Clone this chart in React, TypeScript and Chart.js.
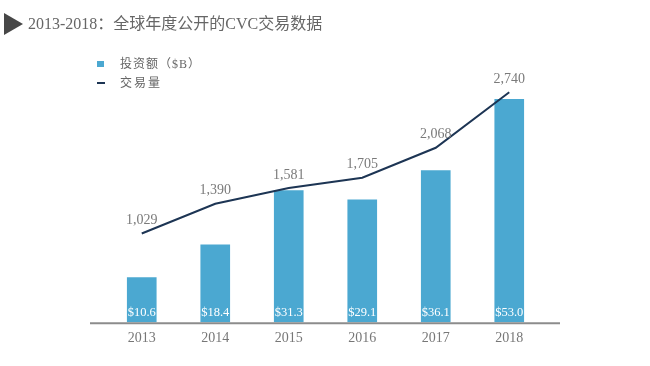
import React, { useEffect, useRef } from "react";
import { Chart, registerables } from "chart.js";

Chart.register(...registerables);

const years = ["2013", "2014", "2015", "2016", "2017", "2018"];
const investment = [10.6, 18.4, 31.3, 29.1, 36.1, 53.0];
const dealCount = [1029, 1390, 1581, 1705, 2068, 2740];
const titleText = "2013-2018：全球年度公开的CVC交易数据";
const legendInvest = "投资额（$B）";
const legendDeals = "交易量";

const BAR_COLOR = "#4ba8d1";
const LINE_COLOR = "#1d3554";
const SERIF = "'Liberation Serif', 'Noto Sans CJK SC', serif";

const labelPlugin = {
  id: "customLabels",
  afterDatasetsDraw(chart: any) {
    const { ctx, chartArea } = chart;
    ctx.save();
    // axis baseline
    ctx.strokeStyle = "#8c8c8c";
    ctx.lineWidth = 2;
    ctx.beginPath();
    ctx.moveTo(chartArea.left - 15, chartArea.bottom + 1);
    ctx.lineTo(chartArea.right + 14, chartArea.bottom + 1);
    ctx.stroke();

    // bar labels
    const barMeta = chart.getDatasetMeta(0);
    ctx.fillStyle = "#ffffff";
    ctx.font = `12.5px ${SERIF}`;
    ctx.textAlign = "center";
    ctx.textBaseline = "middle";
    barMeta.data.forEach((el: any, i: number) => {
      ctx.fillText("$" + investment[i].toFixed(1), el.x, chartArea.bottom - 9.5);
    });

    // line labels
    const lineMeta = chart.getDatasetMeta(1);
    ctx.fillStyle = "#7a7a7a";
    ctx.font = `14px ${SERIF}`;
    ctx.textBaseline = "bottom";
    lineMeta.data.forEach((el: any, i: number) => {
      ctx.fillText(dealCount[i].toLocaleString("en-US"), el.x, el.y - 6);
    });
    ctx.restore();
  },
};

export default function App() {
  const canvasRef = useRef<HTMLCanvasElement | null>(null);

  useEffect(() => {
    if (!canvasRef.current) return;
    const chart = new Chart(canvasRef.current, {
      type: "bar",
      data: {
        labels: years,
        datasets: [
          {
            type: "bar",
            label: legendInvest,
            data: investment,
            backgroundColor: BAR_COLOR,
            barThickness: 29,
            yAxisID: "y",
            order: 1,
          },
          {
            type: "line",
            label: legendDeals,
            data: dealCount,
            borderColor: LINE_COLOR,
            borderWidth: 2,
            pointRadius: 0,
            tension: 0,
            yAxisID: "y1",
            order: 0,
          },
        ] as any,
      },
      options: {
        responsive: false,
        animation: false,
        layout: { padding: { left: 105, right: 104, top: 70, bottom: 11 } },
        plugins: {
          legend: { display: false },
          tooltip: { enabled: false },
          title: { display: false },
        },
        scales: {
          x: {
            grid: { display: false, drawTicks: false },
            border: { display: false },
            ticks: {
              color: "#777777",
              font: { family: SERIF, size: 14 },
              padding: 8,
            },
          },
          y: { display: false, min: 0, max: 60 },
          y1: { display: false, min: -45, max: 3010, position: "right" },
        },
      },
      plugins: [labelPlugin],
    });
    return () => chart.destroy();
  }, []);

  return (
    <div style={{ position: "fixed", left: 0, top: 0, width: 650, height: 366, background: "#fff" }}>
      <canvas ref={canvasRef} width={650} height={366} style={{ position: "absolute", left: 0, top: 0 }} />
      <svg width={24} height={40} style={{ position: "absolute", left: 0, top: 5 }}>
        <polygon points="4,8 4,30 23,19" fill="#474747" />
      </svg>
      <div
        style={{
          position: "absolute",
          left: 28,
          top: 14,
          fontFamily: SERIF,
          fontSize: 16,
          lineHeight: "20px",
          color: "#666666",
          whiteSpace: "nowrap",
        }}
      >
        {titleText}
      </div>
      <div style={{ position: "absolute", left: 97, top: 61, width: 7, height: 6, background: BAR_COLOR }} />
      <div
        style={{
          position: "absolute",
          left: 120,
          top: 56,
          fontFamily: SERIF,
          fontSize: 12,
          lineHeight: "16px",
          color: "#666666",
          whiteSpace: "nowrap",
          letterSpacing: 1,
        }}
      >
        {legendInvest}
      </div>
      <div style={{ position: "absolute", left: 97, top: 82, width: 8, height: 2, background: LINE_COLOR }} />
      <div
        style={{
          position: "absolute",
          left: 120,
          top: 75,
          fontFamily: SERIF,
          fontSize: 12,
          lineHeight: "16px",
          color: "#666666",
          whiteSpace: "nowrap",
          letterSpacing: 2,
        }}
      >
        {legendDeals}
      </div>
    </div>
  );
}
